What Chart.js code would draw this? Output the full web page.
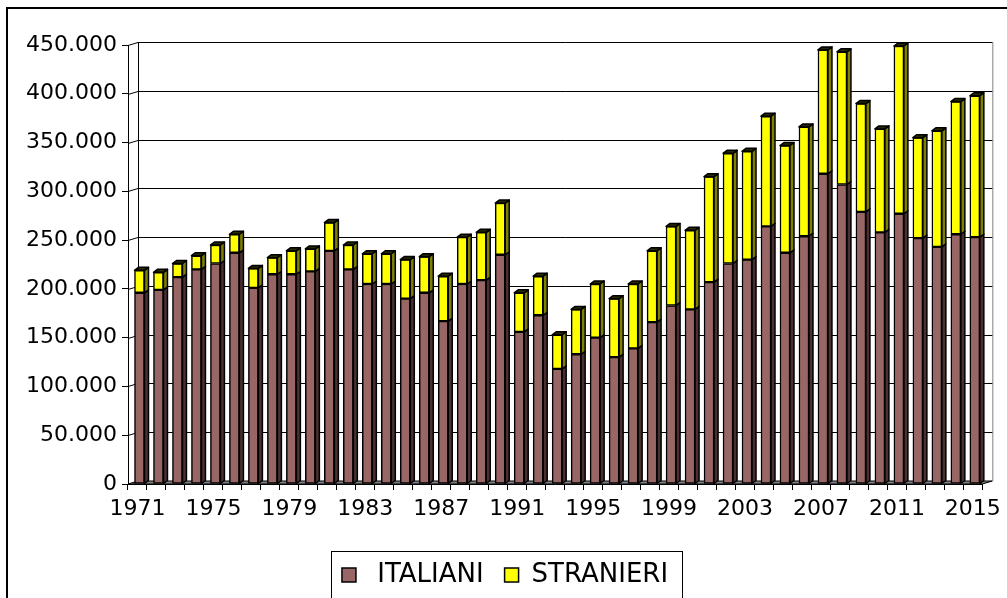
<!DOCTYPE html>
<html lang="it">
<head>
<meta charset="UTF-8">
<title>Italiani e stranieri 1971-2015</title>
<script src="https://cdn.jsdelivr.net/npm/chart.js"></script>
<style>
    html, body { margin: 0; padding: 0; background: #fff; }
    #wrap { position: relative; width: 1007px; height: 598px; }
</style>
</head>
<body>
<div id="wrap">
    <canvas id="chart" width="1007" height="598"></canvas>
</div>
<script>
// --- data ---
const years = ['1971','1972','1973','1974','1975','1976','1977','1978','1979','1980',
    '1981','1982','1983','1984','1985','1986','1987','1988','1989','1990',
    '1991','1992','1993','1994','1995','1996','1997','1998','1999','2000',
    '2001','2002','2003','2004','2005','2006','2007','2008','2009','2010',
    '2011','2012','2013','2014','2015'];

const italiani = [196000, 199000, 212000, 220000, 226000, 237000, 201000, 215000, 215000, 218000,
    239000, 220000, 205000, 205000, 190000, 196000, 167000, 205000, 209000, 235000,
    156000, 173000, 118000, 133000, 150000, 130000, 139000, 166000, 183000, 179000,
    207000, 226000, 230000, 264000, 237000, 254000, 318000, 307000, 279000, 258000,
    277000, 252000, 243000, 256000, 253000];

const stranieri = [23000, 18000, 14000, 14000, 19000, 19000, 20000, 17000, 24000, 23000,
    29000, 25000, 31000, 31000, 40000, 37000, 46000, 48000, 49000, 53000,
    40000, 40000, 35000, 46000, 55000, 60000, 66000, 73000, 81000, 81000,
    108000, 113000, 111000, 113000, 110000, 112000, 127000, 136000, 111000, 106000,
    172000, 103000, 119000, 136000, 145000];

const seriesNames = [' ITALIANI', 'STRANIERI'];

// 3d look
const wallDepth = { x: 10, y: 3 };
const barDepth = { x: 4, y: 3 };
const barShift = 2;

function fmt(v) {
    return String(v).replace(/\B(?=(\d{3})+(?!\d))/g, '.');
}

function poly(ctx, pts, fill) {
    ctx.beginPath();
    ctx.moveTo(pts[0][0], pts[0][1]);
    for (let i = 1; i < pts.length; i++) ctx.lineTo(pts[i][0], pts[i][1]);
    ctx.closePath();
    ctx.fillStyle = fill;
    ctx.fill();
    ctx.stroke();
}

const pseudo3d = {
    id: 'pseudo3d',
    beforeDraw(chart) {
        const ctx = chart.ctx;
        ctx.save();
        ctx.strokeStyle = '#000';
        ctx.lineWidth = 2;
        ctx.beginPath();
        ctx.moveTo(7, chart.height + 5);
        ctx.lineTo(7, 8);
        ctx.lineTo(chart.width + 5, 8);
        ctx.stroke();
        ctx.restore();
    },
    beforeDatasetsDraw(chart) {
        const { ctx, chartArea: a, scales: { y } } = chart;
        const dx = wallDepth.x, dy = wallDepth.y;
        ctx.save();
        ctx.lineWidth = 1;
        // floor
        ctx.strokeStyle = '#000';
        poly(ctx, [[a.left, a.bottom], [a.right, a.bottom], [a.right + dx, a.bottom - dy], [a.left + dx, a.bottom - dy]], '#808080');
        // back wall edges
        ctx.strokeStyle = '#808080';
        ctx.beginPath();
        ctx.moveTo(a.right + dx + 0.5, a.top - dy);
        ctx.lineTo(a.right + dx + 0.5, a.bottom - dy);
        ctx.stroke();
        ctx.strokeStyle = '#000';
        ctx.beginPath();
        ctx.moveTo(a.left + dx + 0.5, a.top - dy);
        ctx.lineTo(a.left + dx + 0.5, a.bottom - dy);
        ctx.stroke();
        // grid lines on the back wall
        y.ticks.forEach(t => {
            if (t.value === 0) return;
            const py = Math.round(y.getPixelForValue(t.value)) + 0.5;
            ctx.beginPath();
            ctx.moveTo(a.left, py);
            ctx.lineTo(a.left + dx, py - dy);
            ctx.lineTo(a.right + dx, py - dy);
            ctx.stroke();
        });
        ctx.restore();
        ctx.save();
        ctx.translate(barShift, 0);
    },
    afterDatasetsDraw(chart) {
        const ctx = chart.ctx;
        const last = chart.data.datasets.length - 1;
        ctx.lineWidth = 1.5;
        ctx.lineJoin = 'round';
        ctx.strokeStyle = '#000';
        chart.data.datasets.forEach((ds, di) => {
            chart.getDatasetMeta(di).data.forEach(bar => {
                const { x, y, base, width } = bar.getProps(['x', 'y', 'base', 'width'], true);
                const l = x - width / 2, r = x + width / 2;
                poly(ctx, [[r, y], [r + barDepth.x, y - barDepth.y], [r + barDepth.x, base - barDepth.y], [r, base]], ds.sideColor);
                if (di === last) {
                    poly(ctx, [[l, y], [l + barDepth.x, y - barDepth.y], [r + barDepth.x, y - barDepth.y], [r, y]], ds.topColor);
                }
            });
        });
        ctx.restore();
    },
    afterDraw(chart) {
        // frame round the legend
        const ctx = chart.ctx;
        const hb = chart.legend.legendHitBoxes;
        if (!hb || !hb.length) return;
        const first = hb[0], lastBox = hb[hb.length - 1];
        const cy = first.top + first.height / 2;
        ctx.save();
        ctx.strokeStyle = '#000';
        ctx.lineWidth = 1;
        ctx.strokeRect(Math.round(first.left - 11) + 0.5, Math.round(cy - 24) + 0.5,
            Math.round(lastBox.left + lastBox.width + 14 - first.left + 11), 80);
        ctx.restore();
    }
};

Chart.defaults.font.family = '"DejaVu Sans", Verdana, sans-serif';
Chart.defaults.color = '#000';

new Chart(document.getElementById('chart'), {
    type: 'bar',
    data: {
        labels: years,
        datasets: [
            { label: seriesNames[0], data: italiani, backgroundColor: '#996666', sideColor: '#4a3030', topColor: '#4a3030',
              borderColor: '#000', borderWidth: 1.5, borderSkipped: false, barThickness: 10 },
            { label: seriesNames[1], data: stranieri, backgroundColor: '#ffff00', sideColor: '#808000', topColor: '#2a2a00',
              borderColor: '#000', borderWidth: 1.5, borderSkipped: false, barThickness: 10 }
        ]
    },
    options: {
        responsive: false,
        animation: false,
        devicePixelRatio: 1,
        layout: { padding: { top: 45, left: 3, right: 0, bottom: 0 } },
        plugins: {
            tooltip: { enabled: false },
            legend: {
                position: 'bottom',
                labels: { font: { size: 26 }, boxWidth: 14, boxHeight: 14, padding: 21, color: '#000' }
            }
        },
        scales: {
            x: {
                stacked: true,
                grid: { drawOnChartArea: false, drawTicks: true, tickLength: 6, color: '#000' },
                border: { display: true, color: '#000', width: 1 },
                ticks: {
                    autoSkip: false, maxRotation: 0, minRotation: 0, padding: 6,
                    font: { size: 22 },
                    callback: function (v, i) { return i % 4 === 0 ? this.getLabelForValue(v) : ''; }
                },
                afterFit: s => { s.height = 57; }
            },
            y: {
                stacked: true,
                min: 0, max: 450000,
                grid: { drawOnChartArea: false, drawTicks: true, tickLength: 6, color: '#000' },
                border: { display: true, color: '#000', width: 1 },
                ticks: { stepSize: 50000, padding: 5, font: { size: 22 }, callback: v => fmt(v) },
                afterFit: s => { s.width = 125; }
            },
            yr: {
                position: 'right',
                display: true,
                grid: { display: false },
                border: { display: false },
                ticks: { display: false },
                afterFit: s => { s.width = 15; }
            }
        }
    },
    plugins: [pseudo3d]
});
</script>
</body>
</html>
